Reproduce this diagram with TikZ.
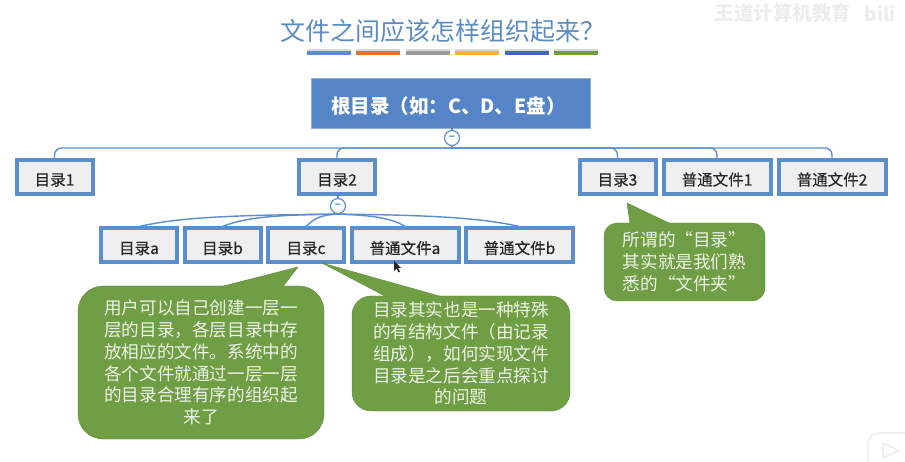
\documentclass[tikz,border=0pt]{standalone}
\usepackage{fontspec}
\setmainfont{Noto Sans CJK SC}
\newfontfamily\labelfont[FakeBold=0.5]{Noto Sans CJK SC}
\usepackage{tikz}
\usetikzlibrary{positioning, shadows}

\definecolor{titleblue}{HTML}{5B8DC3}
\definecolor{rootblue}{HTML}{5585C6}
\definecolor{boxblue}{HTML}{5B8FCB}
\definecolor{boxgray}{HTML}{EFEFEF}
\definecolor{notegreen}{HTML}{6F9E45}
\definecolor{noteedge}{HTML}{5F8C3B}
\definecolor{notetext}{HTML}{EDF3E6}
\definecolor{faintgray}{HTML}{EDEDED}
\definecolor{barorange}{HTML}{E2733A}
\definecolor{bargray}{HTML}{9C9C9C}
\definecolor{baryellow}{HTML}{F5B23E}
\definecolor{bardark}{HTML}{3F68B5}

\begin{document}
\begin{tikzpicture}[
		x=1pt, y=-1pt,
		node distance=3.5pt,
		rootbox/.style = {rectangle, draw=boxblue!70!white, fill=rootblue, text=white, minimum width=279pt, minimum height=50pt, text height=22pt, text depth=0pt, font=\fontsize{19.5}{24}\selectfont\bfseries},
		dirbox/.style = {rectangle, draw=boxblue, line width=4pt, fill=boxgray, text=black!85, inner sep=0pt, minimum width=76pt, minimum height=34pt, text height=17pt, text depth=0pt, font=\fontsize{15.5}{18}\labelfont},
		filebox/.style = {dirbox, minimum width=107pt},
		foldmark/.style = {circle, draw=boxblue, line width=1.2pt, fill=white, text=boxblue, inner sep=0pt, minimum size=15pt, font=\fontsize{10}{10}\selectfont\bfseries},
		link/.style = {draw=boxblue, line width=1.4pt},
		buslink/.style = {link, rounded corners=7pt},
		titlebar/.style = {rectangle, inner sep=0pt, minimum width=44pt, minimum height=4pt, drop shadow={shadow xshift=0pt, shadow yshift=1.5pt, opacity=0.3}},
		note/.style = {rectangle, draw=noteedge, fill=notegreen, text=notetext, inner sep=0pt, font=\fontsize{17.6}{21.8}\selectfont},
		tail/.style = {draw=noteedge, fill=notegreen}
		]
		\useasboundingbox (0,0) rectangle (905,462);
		
		% Title
		\node[text=titleblue, font=\fontsize{25}{30}\selectfont] (title) at (442.5,31) {文件之间应该怎样组织起来？};
		\node[titlebar, fill=boxblue] (barone) at (329,53) {};
		\node[titlebar, fill=barorange, right=5pt of barone] (bartwo) {};
		\node[titlebar, fill=bargray, right=5pt of bartwo] (barthree) {};
		\node[titlebar, fill=baryellow, right=5pt of barthree] (barfour) {};
		\node[titlebar, fill=bardark, right=5pt of barfour] (barfive) {};
		\node[titlebar, fill=notegreen, right=5pt of barfive] (barsix) {};
		
		% Watermark
		\node[text=faintgray, font=\fontsize{19.5}{22}\selectfont\bfseries] (mark) at (783,13) {王道计算机教育};
		\node[text=faintgray, font=\fontsize{19}{22}\selectfont\bfseries] (bili) at (880,14) {bili};
		
		% Directories
		\node[rootbox] (rootdir) at (450.5,103) {根目录（如：C、D、E盘）\kern4pt};
		\node[foldmark] (rootfold) at (452,138) {−};
		\node[dirbox] (dirone) at (54.5,177) {目录1};
		\node[dirbox] (dirtwo) at (337,177) {目录2};
		\node[dirbox] (dirthree) at (617.5,177) {目录3};
		\node[filebox, right=4pt of dirthree] (fileone) {普通文件1};
		\node[filebox, right=4pt of fileone] (filetwo) {普通文件2};
		\node[foldmark] (twofold) at (338,206) {−};
		\node[dirbox] (dira) at (139,245.5) {目录a};
		\node[dirbox, right=of dira] (dirb) {目录b};
		\node[dirbox, right=of dirb] (dirc) {目录c};
		\node[filebox, right=of dirc] (filea) {普通文件a};
		\node[filebox, right=of filea] (fileb) {普通文件b};
		
		% Links
		\coordinate (rootbus) at (452,148);
		\draw[link] (rootdir.south -| rootfold) -- (rootfold);
		\draw[link] (rootfold) -- (rootbus);
		\draw[buslink] (rootbus) -| (dirone.north);
		\draw[buslink] (rootbus) -| (dirtwo.north);
		\draw[buslink] (rootbus) -| (dirthree.north);
		\draw[buslink] (rootbus) -| (fileone.north);
		\draw[buslink] (rootbus) -| (filetwo.north);
		\draw[link] (dirtwo.south -| twofold) -- (twofold);
		\draw[link] (twofold.south) .. controls +(-110,1) and +(40,-9) .. (dira.north);
		\draw[link] (twofold.south) .. controls +(-60,1) and +(25,-10) .. (dirb.north);
		\draw[link] (twofold.south) .. controls +(-15,1) and +(10,-10) .. (dirc.north);
		\draw[link] (twofold.south) .. controls +(25,1) and +(-15,-10) .. (filea.north);
		\draw[link] (twofold.south) .. controls +(90,1) and +(-40,-9) .. (fileb.north);
		
		% Notes
		\node[note, rounded corners=25pt, minimum width=246pt, minimum height=153pt, align=center] (notemake) at (201,362.5) {用户可以自己创建一层一\\层的目录，各层目录中存\\放相应的文件。系统中的\\各个文件就通过一层一层\\的目录合理有序的组织起\\来了};
		\node[note, rounded corners=19pt, minimum width=218pt, minimum height=115pt, align=center] (notefile) at (461,353.5) {目录其实也是一种特殊\\的有结构文件（由记录\\组成），如何实现文件\\目录是之后会重点探讨\\的问题};
		\node[note, rounded corners=13pt, minimum width=161pt, minimum height=78pt, align=left] (notefolder) at (684.5,262) {所谓的“目录”\\其实就是我们熟\\悉的“文件夹”};
		
		% Tails
		\coordinate (tipmake) at (298,267);
		\coordinate (tipfile) at (322,263);
		\coordinate (tipfolder) at (627,203);
		\filldraw[tail] (notemake.north west) ++(144,0.6) -- (tipmake) -- ++(-15,19.6);
		\filldraw[tail] (notefile.north west) ++(89,0.6) -- (tipfile) -- ++(64,33.6);
		\filldraw[tail] (notefolder.north west) ++(66,0.6) -- (tipfolder) -- ++(3,20.6);
		
		% Screen leftovers
		\fill[black!85] (394,261) -- (394,271) -- (396.5,268.5) -- (398.5,272.5) -- (400,271.5) -- (398,268) -- (401,268) -- cycle;
		\draw[faintgray, line width=1.5pt, rounded corners=6pt] (905,433) -- (874,433) -- (868,439) -- (868,462);
		\draw[faintgray, line width=1.5pt, line join=round] (883,443) -- (898,450.5) -- (883,458) -- cycle;
		
	\end{tikzpicture}
\end{document}
